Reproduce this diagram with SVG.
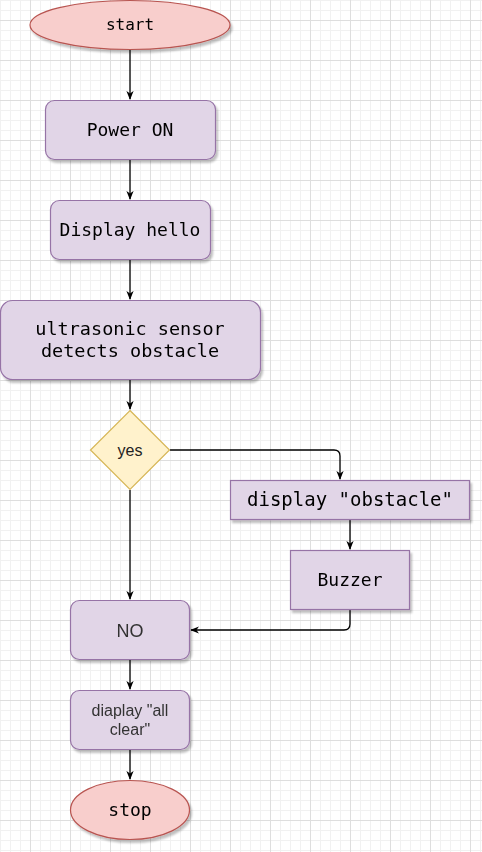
<svg xmlns="http://www.w3.org/2000/svg" width="482" height="852" viewBox="0 0 482 852">
<defs>
<pattern id="gMinor" patternUnits="userSpaceOnUse" x="0" y="0" width="10" height="10">
<rect x="0" y="0" width="1" height="10" fill="#f1f1f1"/>
<rect x="0" y="0" width="10" height="1" fill="#f1f1f1"/>
</pattern>
<pattern id="gMajor" patternUnits="userSpaceOnUse" x="30" y="20" width="40" height="40">
<rect x="0" y="0" width="1" height="40" fill="#dedede"/>
<rect x="0" y="0" width="40" height="1" fill="#dedede"/>
</pattern>
<filter id="sh" x="-10%" y="-10%" width="130%" height="140%">
<feGaussianBlur in="SourceAlpha" stdDeviation="1.2"/>
<feOffset dx="2" dy="3" result="o"/>
<feComponentTransfer><feFuncA type="linear" slope="0.25"/></feComponentTransfer>
<feMerge><feMergeNode/><feMergeNode in="SourceGraphic"/></feMerge>
</filter>
<marker id="arr" markerUnits="userSpaceOnUse" viewBox="0 0 10 10" refX="9" refY="5" markerWidth="9" markerHeight="9" orient="auto">
<path d="M0,1 L10,5 L0,9 L3,5 z" fill="#000"/>
</marker>
<style>
.proc{fill:#e1d5e7;stroke:#9673a6;stroke-width:1.2}
.term{fill:#f8cecc;stroke:#b85450;stroke-width:1.2}
.dec{fill:#fff2cc;stroke:#d6b656;stroke-width:1.2}
.mono{font-family:"DejaVu Sans Mono","Liberation Mono",monospace;font-size:18px;fill:#000;text-anchor:middle}
.sans{font-family:"Liberation Sans",Arial,sans-serif;fill:#333;text-anchor:middle}
.edge{fill:none;stroke:#000;stroke-width:1.3;marker-end:url(#arr)}
</style>
</defs>
<rect x="0" y="0" width="482" height="852" fill="#fff"/>
<rect x="0" y="0" width="482" height="852" fill="url(#gMinor)"/>
<rect x="0" y="0" width="482" height="852" fill="url(#gMajor)"/>

<g id="connectors">
<path class="edge" d="M130,50 V99"/>
<path class="edge" d="M130,160 V199"/>
<path class="edge" d="M130,260 V299"/>
<path class="edge" d="M130,380 V409"/>
<path class="edge" d="M170,450 H334 Q340,450 340,456 V479"/>
<path class="edge" d="M350,520 V549"/>
<path class="edge" d="M350,610 V624 Q350,630 344,630 H191"/>
<path class="edge" d="M130,490 V599"/>
<path class="edge" d="M130,660 V689"/>
<path class="edge" d="M130,750 V779"/>
</g>

<g id="start" filter="url(#sh)">
<ellipse class="term" cx="130" cy="25" rx="100" ry="24.5"/>
<text class="mono" x="130" y="30" style="font-size:16px">start</text>
</g>
<g id="power-on" filter="url(#sh)">
<rect class="proc" x="45.5" y="100.5" width="170" height="59" rx="9"/>
<text class="mono" x="130" y="136">Power ON</text>
</g>
<g id="display-hello" filter="url(#sh)">
<rect class="proc" x="50.5" y="200.5" width="160" height="59" rx="9"/>
<text class="mono" x="130" y="236">Display hello</text>
</g>
<g id="ultrasonic" filter="url(#sh)">
<rect class="proc" x="0.5" y="300.5" width="260" height="79" rx="12"/>
<text class="mono" x="130" y="335" style="font-size:18.5px">ultrasonic sensor</text>
<text class="mono" x="130" y="357" style="font-size:18.5px">detects obstacle</text>
</g>
<g id="decision">
<polygon class="dec" points="130,410.5 169.5,450 130,489.5 90.5,450"/>
<text class="sans" x="130" y="456" style="font-size:16px;fill:#222">yes</text>
</g>
<g id="display-obstacle" filter="url(#sh)">
<rect class="proc" x="230.5" y="480.5" width="239" height="39"/>
<text class="mono" x="350" y="506" style="font-size:19px">display "obstacle"</text>
</g>
<g id="buzzer" filter="url(#sh)">
<rect class="proc" x="290.5" y="550.5" width="119" height="59"/>
<text class="mono" x="350" y="586">Buzzer</text>
</g>
<g id="no" filter="url(#sh)">
<rect class="proc" x="70.5" y="600.5" width="119" height="59" rx="9"/>
<text class="sans" x="130" y="636.5" style="font-size:18px">NO</text>
</g>
<g id="all-clear" filter="url(#sh)">
<rect class="proc" x="70.5" y="690.5" width="119" height="59" rx="9"/>
<text class="sans" x="130" y="716" style="font-size:16px">diaplay "all</text>
<text class="sans" x="130" y="735" style="font-size:16px">clear"</text>
</g>
<g id="stop" filter="url(#sh)">
<ellipse class="term" cx="130" cy="810" rx="59.5" ry="29.5"/>
<text class="mono" x="130" y="816">stop</text>
</g>
</svg>
